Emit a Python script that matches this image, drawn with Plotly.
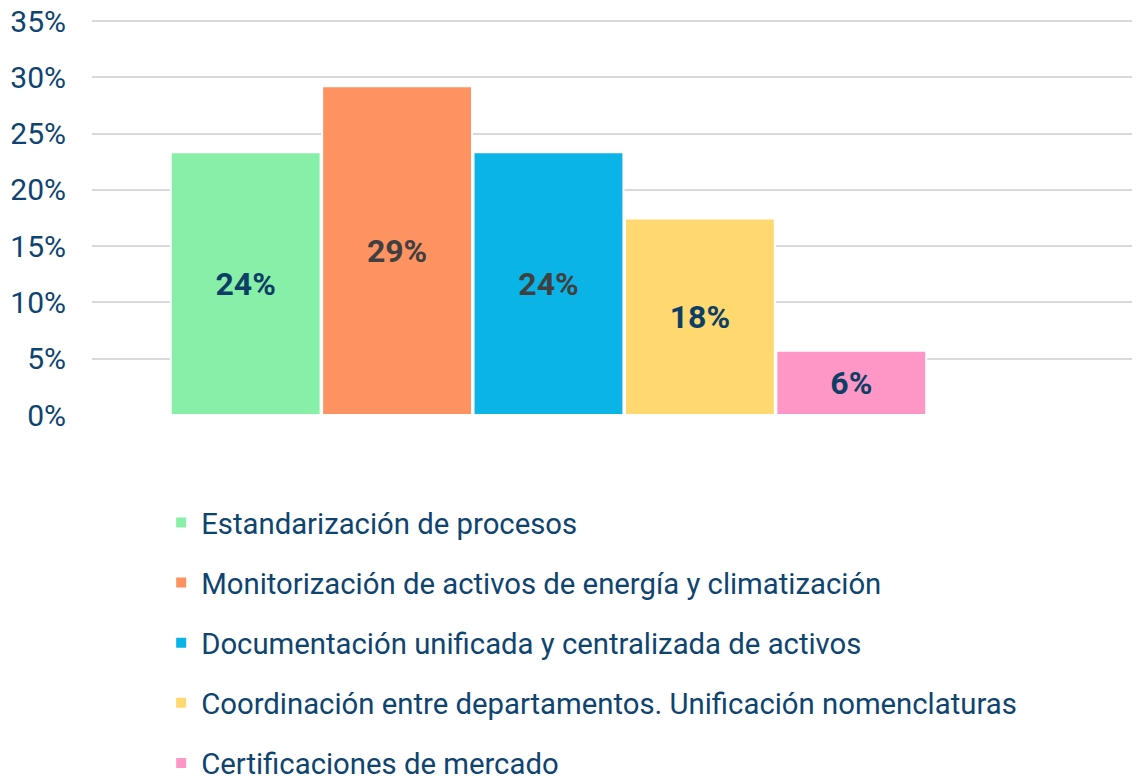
import plotly.graph_objects as go

categories = [
    "Estandarización de procesos",
    "Monitorización de activos de energía y climatización",
    "Documentación unificada y centralizada de activos",
    "Coordinación entre departamentos. Unificación nomenclaturas",
    "Certificaciones de mercado",
]
values = [23.35, 29.2, 23.35, 17.45, 5.7]
labels = ["24%", "29%", "24%", "18%", "6%"]
colors = ["#88EFA8", "#FF9261", "#0BB4E6", "#FFD86F", "#FF97C6"]
label_colors = ["#0D3F66", "#404040", "#404040", "#0D3F66", "#0D3F66"]
tick_vals = [0, 5, 10, 15, 20, 25, 30, 35]
tick_text = ["0%", "5%", "10%", "15%", "20%", "25%", "30%", "35%"]

NAVY = "#0E4470"

fig = go.Figure()
for i, (name, v, t, c, lc) in enumerate(zip(categories, values, labels, colors, label_colors)):
    fig.add_trace(go.Bar(
        x=[""], y=[v], name=name, text=[t],
        textposition="inside", insidetextanchor="middle",
        textfont=dict(family="Roboto", size=32, color=lc, weight="bold"),
        marker=dict(color=c, line=dict(color="white", width=2)),
        legendgroup=f"g{i}",
    ))

fig.update_layout(
    width=1132, height=769,
    barmode="group", bargap=0, bargroupgap=0.01,
    plot_bgcolor="white", paper_bgcolor="white",
    margin=dict(l=84, r=0, t=11, b=362, autoexpand=False),
    font=dict(family="Roboto", color=NAVY),
    xaxis=dict(range=[-0.603, 0.7814], showticklabels=False, showgrid=False,
               zeroline=False, showline=False, fixedrange=True),
    yaxis=dict(range=[0, 35.18], tickvals=tick_vals, ticktext=tick_text,
               showgrid=True, gridcolor="#D9D9D9", gridwidth=2,
               zeroline=False, showline=False,
               tickfont=dict(family="Roboto", size=30, color=NAVY),
               ticklabelstandoff=25, ticklabeloverflow="allow"),
    showlegend=True,
    legend=dict(orientation="v", x=0.066, xanchor="left", y=-0.207, yanchor="top",
                font=dict(family="Roboto", size=29.3, color=NAVY),
                tracegroupgap=19, bgcolor="rgba(0,0,0,0)"),
    uniformtext=dict(mode=None),
)

fig.write_html("out.html")
